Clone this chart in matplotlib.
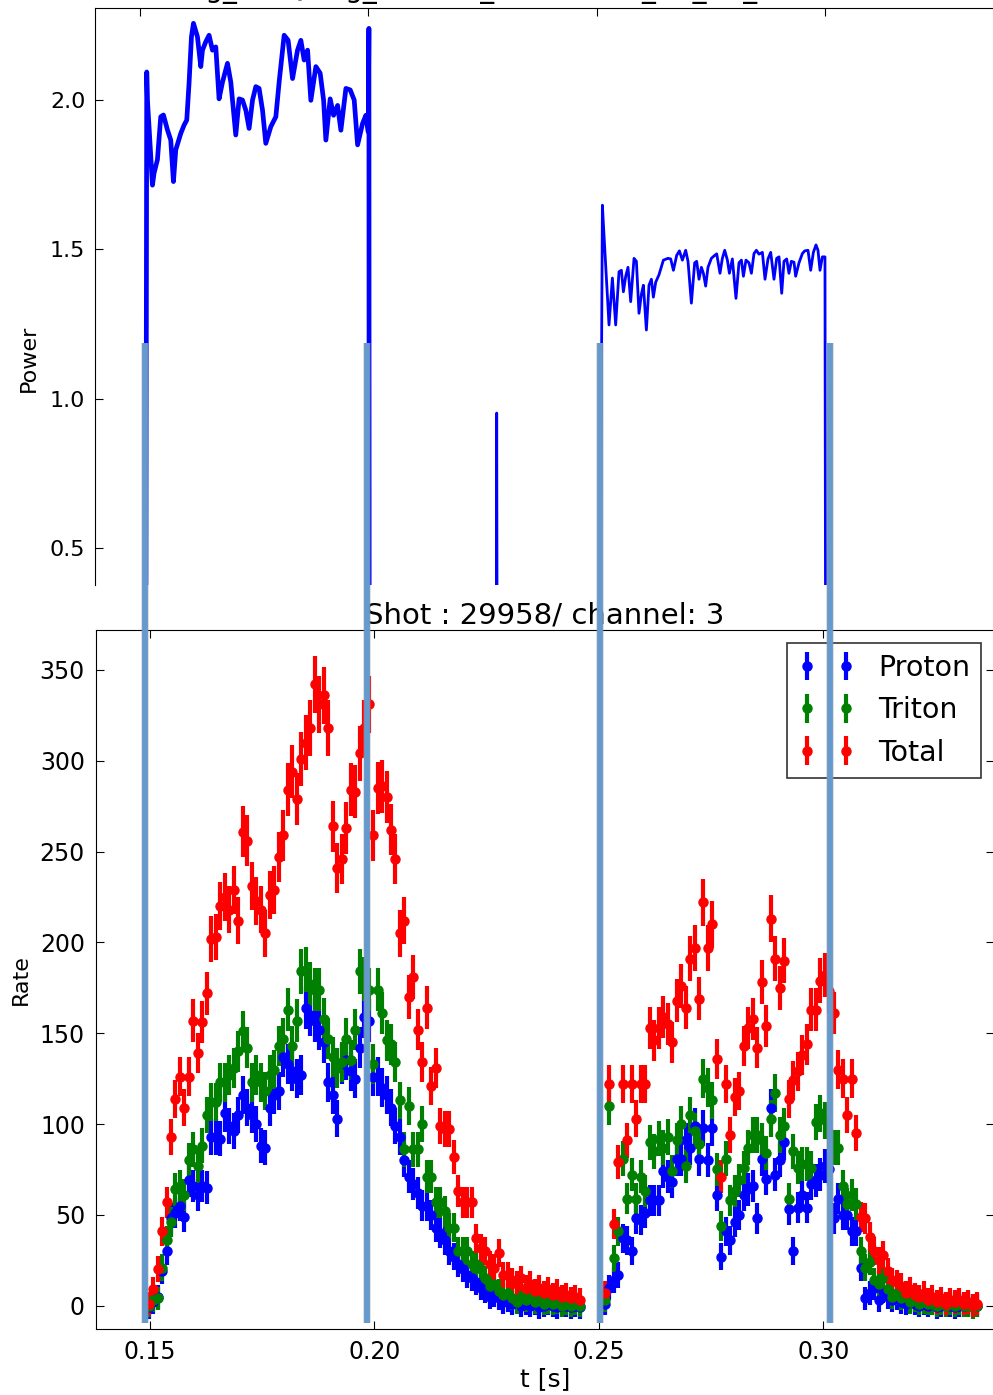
import numpy as np
import matplotlib
matplotlib.use('Agg')
import matplotlib.pyplot as plt
from matplotlib.lines import Line2D
from matplotlib.transforms import blended_transform_factory


# NBI heating power, first beam pulse
pulse1_t = [0.15121, 0.15143, 0.15158, 0.15193, 0.15268, 0.15303, 0.15377, 0.15450,
            0.15509, 0.15597, 0.15669, 0.15728, 0.15779, 0.15888, 0.15961, 0.16020,
            0.16070, 0.16123, 0.16167, 0.16254, 0.16327, 0.16364, 0.16436, 0.16509,
            0.16583, 0.16656, 0.16728, 0.16803, 0.16912, 0.16985, 0.17094, 0.17167,
            0.17241, 0.17314, 0.17386, 0.17461, 0.17533, 0.17605, 0.17680, 0.17752,
            0.17862, 0.17972, 0.18044, 0.18154, 0.18241, 0.18338, 0.18447, 0.18520,
            0.18592, 0.18667, 0.18739, 0.18849, 0.18943, 0.19018, 0.19068, 0.19162,
            0.19237, 0.19325, 0.19397, 0.19507, 0.19601, 0.19689, 0.19763, 0.19873,
            0.19945, 0.19996, 0.20011, 0.20018]
pulse1_p = [0.0, 2.094, 2.000, 1.911, 1.715, 1.755, 1.800, 1.944,
            1.950, 1.900, 1.866, 1.727, 1.833, 1.888, 1.916, 1.933,
            2.056, 2.212, 2.257, 2.212, 2.112, 2.167, 2.195, 2.217,
            2.167, 2.178, 2.004, 2.060, 2.123, 2.060, 1.883, 2.004,
            2.000, 1.966, 1.905, 2.000, 2.045, 2.039, 1.966, 1.855,
            1.911, 1.944, 2.060, 2.217, 2.200, 2.072, 2.167, 2.200,
            2.134, 2.167, 1.999, 2.112, 2.090, 2.000, 1.866, 2.004,
            1.949, 1.982, 1.899, 2.039, 2.034, 2.000, 1.850, 1.922,
            1.949, 1.894, 2.240, 0.0]

# second beam pulse
pulse2_t = [0.25068, 0.25127, 0.25156, 0.25272, 0.25346, 0.25418, 0.25491, 0.25543,
            0.25587, 0.25638, 0.25688, 0.25747, 0.25820, 0.25872, 0.25929, 0.25982,
            0.26025, 0.26091, 0.26148, 0.26201, 0.26244, 0.26295, 0.26367, 0.26464,
            0.26564, 0.26624, 0.26683, 0.26755, 0.26814, 0.26880, 0.26952, 0.27003,
            0.27077, 0.27149, 0.27193, 0.27244, 0.27296, 0.27340, 0.27390, 0.27441,
            0.27515, 0.27588, 0.27632, 0.27704, 0.27756, 0.27807, 0.27866, 0.27910,
            0.27975, 0.28054, 0.28120, 0.28173, 0.28217, 0.28273, 0.28339, 0.28392,
            0.28449, 0.28501, 0.28558, 0.28633, 0.28690, 0.28756, 0.28815, 0.28887,
            0.28946, 0.28997, 0.29056, 0.29106, 0.29165, 0.29215, 0.29268, 0.29325,
            0.29362, 0.29435, 0.29509, 0.29560, 0.29632, 0.29691, 0.29750, 0.29807,
            0.29851, 0.29895, 0.29947, 0.30004, 0.30019]
pulse2_p = [0.0, 1.648, 1.565, 1.247, 1.404, 1.247, 1.425, 1.430,
            1.358, 1.410, 1.440, 1.325, 1.470, 1.460, 1.286, 1.350,
            1.380, 1.230, 1.380, 1.400, 1.340, 1.390, 1.415, 1.464,
            1.470, 1.468, 1.430, 1.480, 1.495, 1.464, 1.497, 1.460,
            1.320, 1.455, 1.460, 1.400, 1.440, 1.420, 1.377, 1.440,
            1.470, 1.480, 1.485, 1.420, 1.470, 1.497, 1.464, 1.420,
            1.468, 1.336, 1.455, 1.464, 1.410, 1.464, 1.455, 1.420,
            1.486, 1.497, 1.484, 1.490, 1.400, 1.468, 1.490, 1.400,
            1.470, 1.475, 1.353, 1.460, 1.468, 1.420, 1.460, 1.457,
            1.410, 1.455, 1.486, 1.495, 1.497, 1.430, 1.490, 1.515,
            1.497, 1.430, 1.475, 1.475, 0.0]

# short spike between the pulses
blip_t = [0.22800, 0.22811, 0.22822]
blip_p = [0.0, 0.952, 0.0]

# beam switch-on / switch-off times
beam_marks = [0.1489, 0.1983, 0.2502, 0.3015]

# neutron rates in 1 ms bins
t1_start = 0.1497
proton_1 = [-1, 2, 5, 19, 30, 48, 51, 55, 49, 69,
            66, 61, 66, 65, 93, 93, 92, 106, 99, 96,
            105, 116, 109, 105, 100, 88, 87, 109, 116, 118,
            137, 133, 129, 125, 127, 164, 160, 157, 152, 145,
            123, 116, 103, 133, 135, 129, 125, 142, 159, 157,
            126, 126, 120, 116, 109, 99, 93, 80, 71, 67,
            62, 55, 55, 50, 43, 40, 36, 30, 27, 23,
            20, 17, 15, 13, 10, 8, 5, 6, 4, 2,
            3, 1, 2, 0, 1, 0, 1, -1, 0, 1,
            0, -1, 0, 0, -1, 0, -1]
triton_1 = [0, 3, 4, 21, 36, 46, 64, 66, 61, 80,
            86, 77, 88, 105, 112, 112, 123, 123, 127, 131,
            140, 151, 142, 123, 127, 123, 118, 127, 130, 143,
            147, 163, 143, 157, 184, 185, 177, 174, 174, 158,
            147, 137, 131, 134, 147, 135, 152, 184, 180, 174,
            133, 174, 161, 146, 144, 134, 113, 86, 110, 86,
            86, 100, 71, 71, 57, 57, 52, 43, 43, 30,
            30, 30, 23, 23, 20, 15, 11, 12, 8, 6,
            7, 4, 2, 5, 3, 4, 2, 3, 1, 2,
            1, 2, 0, 1, 0, 1, 0]
total_1 = [1, 9, 20, 41, 57, 93, 114, 126, 109, 126,
           157, 139, 156, 172, 202, 203, 220, 225, 218, 229,
           212, 261, 256, 231, 223, 218, 205, 226, 229, 247,
           259, 284, 294, 279, 301, 310, 318, 342, 331, 336,
           318, 264, 241, 246, 263, 284, 283, 304, 318, 331,
           259, 285, 286, 280, 262, 246, 205, 212, 170, 181,
           152, 134, 164, 121, 131, 99, 97, 97, 82, 63,
           57, 57, 57, 37, 32, 30, 23, 21, 29, 17,
           17, 14, 12, 15, 10, 12, 8, 10, 7, 9,
           6, 8, 5, 6, 4, 5, 3]

t2_start = 0.2513
proton_2 = [1, 10, 14, 17, 37, 36, 30, 48, 47, 51,
            58, 58, 58, 74, 71, 68, 81, 81, 91, 87,
            99, 81, 98, 80, 98, 61, 27, 41, 36, 46,
            50, 61, 64, 66, 48, 81, 70, 109, 72, 80,
            90, 53, 30, 54, 61, 54, 67, 69, 72, 77,
            75, 48, 59, 50, 50, 41, 41, 21, 4, 7,
            10, 3, 8, 5, 3, 4, 2, 1, 3, 1,
            0, 1, 0, 1, -1, 0, 1, 0, -1, 0,
            0, 1, 0, 0]
triton_2 = [3, 110, 26, 41, 81, 59, 72, 59, 71, 63,
            90, 85, 92, 87, 93, 74, 91, 100, 77, 105,
            96, 89, 125, 120, 113, 75, 44, 81, 58, 63,
            69, 76, 87, 94, 94, 91, 84, 103, 117, 94,
            99, 59, 85, 76, 78, 78, 76, 101, 106, 102,
            95, 87, 87, 66, 56, 61, 56, 30, 21, 24,
            14, 12, 15, 9, 5, 7, 4, 5, 2, 3,
            1, 2, 1, 1, 0, 1, 0, 1, 0, 1,
            0, 0, -1, 0]
total_2 = [7, 122, 45, 79, 122, 91, 122, 103, 122, 122,
           153, 146, 153, 159, 155, 145, 168, 176, 164, 191,
           197, 169, 222, 197, 210, 136, 71, 122, 94, 115,
           118, 143, 153, 158, 142, 178, 154, 213, 191, 175,
           190, 114, 124, 129, 138, 144, 163, 163, 179, 182,
           173, 161, 130, 125, 105, 125, 95, 49, 48, 38,
           30, 25, 28, 19, 14, 13, 11, 7, 9, 6,
           5, 7, 3, 5, 2, 4, 1, 3, 2, 3,
           1, 2, 0, 1]

t_bins = np.concatenate([t1_start + 0.001 * np.arange(len(proton_1)),
                         t2_start + 0.001 * np.arange(len(proton_2))])
rates = {
    'Proton': (np.array(proton_1 + proton_2, dtype=float), 'b'),
    'Triton': (np.array(triton_1 + triton_2, dtype=float), 'g'),
    'Total': (np.array(total_1 + total_2, dtype=float), 'r'),
}


def count_err(rate):
    # counting statistics incl. subtracted background
    return np.sqrt(0.6 * np.abs(rate) + 40.0)


fig = plt.figure(figsize=(9.93, 13.95), dpi=100)

# --- power panel ---
ax1 = fig.add_axes([0.0957, 0.5806, 0.9192, 0.4134])
ax1.plot(pulse1_t, pulse1_p, color='b', lw=3.4)
ax1.plot(pulse2_t, pulse2_p, color='b', lw=2.0)
ax1.plot(blip_t, blip_p, color='b', lw=2.0)
ax1.set_xlim(0.1401, 0.3401)
ax1.set_ylim(0.376, 2.307)
ax1.set_yticks([0.5, 1.0, 1.5, 2.0])
ax1.set_xticks([0.15, 0.20, 0.25, 0.30])
ax1.spines['bottom'].set_visible(False)
ax1.tick_params(direction='in', top=True, bottom=False, right=True,
                labelbottom=False, length=6, labelsize=16, pad=7)
ax1.set_ylabel('Power', fontsize=16)
ax1.yaxis.set_label_coords(-0.062, 0.393)
fig.text(163 / 993, 1 + 3.5 / 1395, 'diag_NISQ, sig_PNBItot_totalP, box_B1_B2_B3',
         ha='left', va='baseline', fontsize=20)

# --- rate panel ---
ax2 = fig.add_axes([0.0967, 0.0471, 0.9043, 0.5013])
for name, (rate, col) in rates.items():
    ax2.errorbar(t_bins, rate, yerr=count_err(rate), fmt='o', color=col,
                 mec=col, ms=6.5, elinewidth=3.0, capsize=0, label=name)
ax2.set_xlim(0.138, 0.338)
ax2.set_ylim(-13, 372)
ax2.set_xticks([0.15, 0.20, 0.25, 0.30])
ax2.set_xticklabels(['0.15', '0.20', '0.25', '0.30'])
ax2.set_yticks(np.arange(0, 351, 50))
ax2.tick_params(direction='in', top=True, right=True, length=6, labelsize=17, pad=8)
ax2.set_xlabel('t [s]', fontsize=18, labelpad=2)
ax2.set_ylabel('Rate', fontsize=16)
ax2.yaxis.set_label_coords(-0.072, 0.5)
ax2.set_title('Shot : 29958/ channel: 3', fontsize=21, pad=5)
leg = ax2.legend(loc='upper right', numpoints=2, fontsize=20.5, fancybox=False,
                 borderaxespad=0.45)
leg.get_frame().set_edgecolor('k')
leg.get_frame().set_linewidth(1.2)

# beam timing markers spanning both panels
tr = blended_transform_factory(ax2.transData, fig.transFigure)
for tm in beam_marks:
    fig.add_artist(Line2D([tm, tm], [1 - 343 / 1395, 1 - 1323 / 1395], transform=tr,
                          color='0.6', lw=5.6, alpha=0.35, solid_capstyle='butt'))
    fig.add_artist(Line2D([tm, tm], [1 - 343 / 1395, 1 - 1323 / 1395], transform=tr,
                          color='#6699cc', lw=4.2, solid_capstyle='butt'))

fig.savefig('out.png', dpi=100)
